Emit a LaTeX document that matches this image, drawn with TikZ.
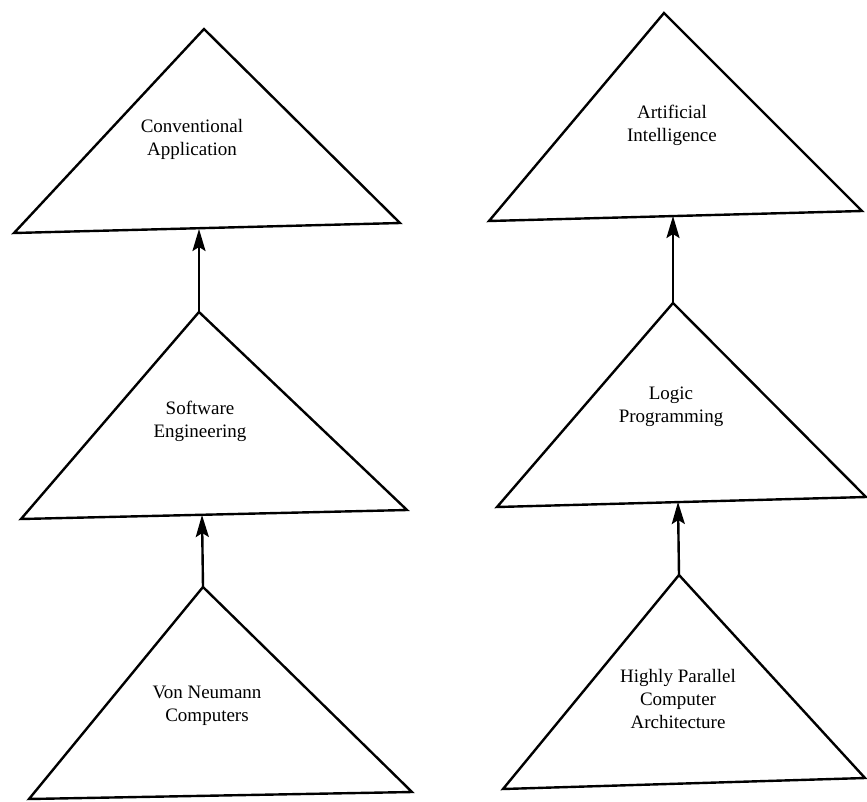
\documentclass[tikz,border=0pt]{standalone}
\usepackage{fontspec}
\setmainfont{Liberation Serif}
\usetikzlibrary{arrows.meta}
\begin{document}
\begin{tikzpicture}[x=1pt,y=-1pt,
  tri/.style={draw=black,line width=2.4pt,line join=miter},
  lbl/.style={align=center,font=\fontsize{19}{23}\selectfont,inner sep=0pt},
  uparrow/.style={draw=black,line width=2.4pt,-{Stealth[length=22pt,width=13pt,inset=4pt]}}]
\useasboundingbox (0,0) rectangle (867,801);
% left column
\coordinate (ca) at (204,29);  \coordinate (cl) at (14,233);  \coordinate (cr) at (400,223);
\coordinate (sa) at (199,312); \coordinate (sl) at (21,519);  \coordinate (sr) at (407,510);
\coordinate (va) at (203,587); \coordinate (vl) at (29,799);  \coordinate (vr) at (412,792);
% right column
\coordinate (aa) at (664,13);  \coordinate (al) at (489,221); \coordinate (ar) at (862,211);
\coordinate (la) at (673,303); \coordinate (ll) at (497,507); \coordinate (lr) at (866,497);
\coordinate (ha) at (679,575); \coordinate (hl) at (503,789); \coordinate (hr) at (865,778);
% arrow targets on bases
\coordinate (cbase) at (199,229);
\coordinate (sbase) at (202,515);
\coordinate (abase) at (673,216);
\coordinate (lbase) at (678,502);

\draw[tri] (ca) -- (cl) -- (cr) -- cycle;
\draw[tri] (sa) -- (sl) -- (sr) -- cycle;
\draw[tri] (va) -- (vl) -- (vr) -- cycle;
\draw[tri] (aa) -- (al) -- (ar) -- cycle;
\draw[tri] (la) -- (ll) -- (lr) -- cycle;
\draw[tri] (ha) -- (hl) -- (hr) -- cycle;

\node[lbl] (conv) at (192,139) {Conventional\\Application};
\node[lbl] (soft) at (200,421) {Software\\Engineering};
\node[lbl] (vonn) at (207,706) {Von Neumann\\Computers};
\node[lbl] (arti) at (672,125) {Artificial\\Intelligence};
\node[lbl] (logi) at (671,407) {Logic\\Programming};
\node[lbl] (high) at (678,699) {Highly Parallel\\Computer\\Architecture};

\draw[uparrow] (sa) -- (cbase);
\draw[uparrow] (va) -- (sbase);
\draw[uparrow] (la) -- (abase);
\draw[uparrow] (ha) -- (lbase);
\end{tikzpicture}
\end{document}
